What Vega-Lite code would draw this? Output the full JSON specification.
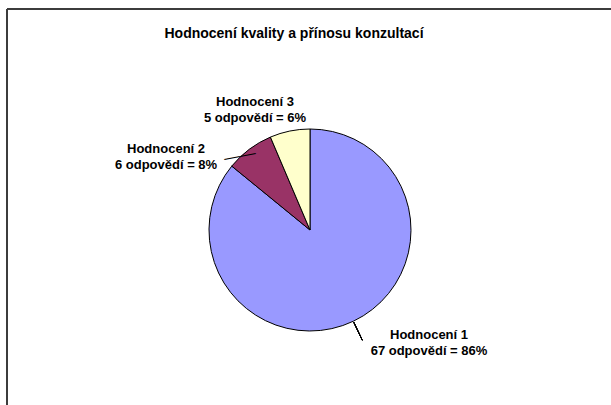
{
  "$schema": "https://vega.github.io/schema/vega-lite/v6.json",
  "width": 606,
  "height": 442,
  "autosize": {"type": "none"},
  "padding": {"left": 7, "top": 9, "right": -2, "bottom": -46},
  "background": "white",
  "view": {"stroke": "#3c3c3c", "strokeWidth": 2, "fill": "white", "strokeDash": [606, 1048, 442, 0]},
  "title": {
    "text": "Hodnocení kvality a přínosu konzultací",
    "orient": "top",
    "anchor": "middle",
    "frame": "group",
    "offset": -23,
    "baseline": "middle",
    "dx": -16,
    "dy": 16,
    "font": "Liberation Sans",
    "fontSize": 14,
    "fontWeight": "bold",
    "color": "#000000"
  },
  "data": {
    "values": [
      {"category": "Hodnocení 1", "count": 67, "label": ["Hodnocení 1", "67 odpovědí = 86%"]},
      {"category": "Hodnocení 2", "count": 6, "label": ["Hodnocení 2", "6 odpovědí = 8%"]},
      {"category": "Hodnocení 3", "count": 5, "label": ["Hodnocení 3", "5 odpovědí = 6%"]}
    ]
  },
  "encoding": {
    "theta": {"field": "count", "type": "quantitative", "stack": true},
    "order": {"field": "category", "type": "nominal", "sort": "ascending"}
  },
  "layer": [
    {
      "mark": {"type": "arc", "outerRadius": 101, "stroke": "#000000", "strokeWidth": 1},
      "encoding": {
        "color": {
          "field": "category",
          "type": "nominal",
          "scale": {"domain": ["Hodnocení 1", "Hodnocení 2", "Hodnocení 3"], "range": ["#9999FF", "#993366", "#FFFFCC"]},
          "legend": null
        }
      }
    },
    {
      "mark": {"type": "arc", "innerRadius": 102, "outerRadius": 122, "stroke": "#000000", "strokeWidth": 1, "fill": null},
      "encoding": {
        "theta": {"datum": 33.5, "type": "quantitative"},
        "theta2": {"datum": 33.5}
      }
    },
    {
      "mark": {"type": "text", "radius": 101, "dx": -10.5, "dy": 4.5, "angle": -10.6, "align": "center", "baseline": "middle", "font": "Liberation Sans", "fontSize": 16, "color": "#000000"},
      "encoding": {"text": {"condition": {"test": "datum.category === 'Hodnocení 2'", "value": "——"}, "value": ""}}
    },
    {
      "mark": {"type": "text", "radius": 101, "dx": 75.7, "dy": 13.5, "align": "center", "baseline": "middle", "font": "Liberation Sans", "fontSize": 13, "fontWeight": "bold", "lineHeight": 16, "color": "#000000"},
      "encoding": {"text": {"condition": {"test": "datum.category === 'Hodnocení 1'", "field": "label"}, "value": ""}}
    },
    {
      "mark": {"type": "text", "radius": 101, "dx": -83.3, "dy": -0.3, "align": "center", "baseline": "middle", "font": "Liberation Sans", "fontSize": 13, "fontWeight": "bold", "lineHeight": 16, "color": "#000000"},
      "encoding": {"text": {"condition": {"test": "datum.category === 'Hodnocení 2'", "field": "label"}, "value": ""}}
    },
    {
      "mark": {"type": "text", "radius": 101, "dx": -34.8, "dy": -29.3, "align": "center", "baseline": "middle", "font": "Liberation Sans", "fontSize": 13, "fontWeight": "bold", "lineHeight": 16, "color": "#000000"},
      "encoding": {"text": {"condition": {"test": "datum.category === 'Hodnocení 3'", "field": "label"}, "value": ""}}
    }
  ]
}
